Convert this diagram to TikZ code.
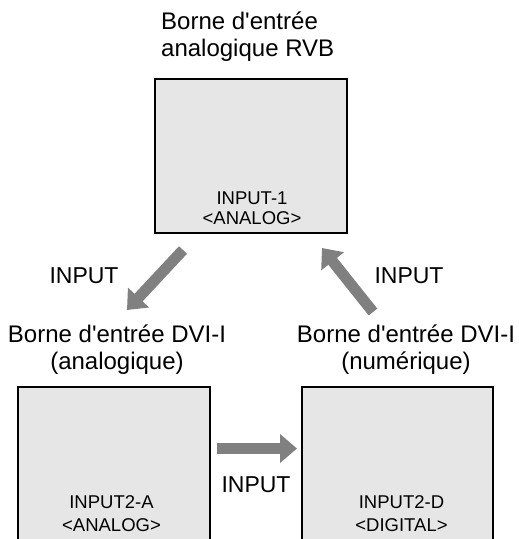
\documentclass[tikz,border=0pt]{standalone}
\usepackage{fontspec}
\setmainfont{Liberation Sans}[Ligatures=TeXOff]
\definecolor{mScreen}{HTML}{E6E6E6}
\definecolor{mArrow}{HTML}{808080}
\usetikzlibrary{arrows.meta}

\begin{document}
\begin{tikzpicture}[x=1pt, y=-1pt,
    screen/.style={draw=black, line width=1.4pt, fill=mScreen, inner sep=0pt},
    title/.style={font=\fontsize{24}{27}\selectfont, inner sep=0pt, anchor=north},
    tag/.style={font=\fontsize{23}{27}\selectfont, inner sep=0pt, anchor=base},
    portlbl/.style={font=\fontsize{18.5}{20}\selectfont, align=center, inner sep=0pt, anchor=north},
    flow/.style={mArrow, line width=11pt, -{Triangle[length=17pt, width=28pt]}}]
  \useasboundingbox (0,0) rectangle (519,539);
  \clip (0,0) rectangle (519,539);
  % screens
  \node[screen, minimum width=192pt, minimum height=154pt] (rgbscr) at (251,156) {};
  \node[screen, minimum width=192pt, minimum height=180pt] (dviascr) at (114,477) {};
  \node[screen, minimum width=191pt, minimum height=180pt] (dvidscr) at (397.5,477) {};
  % port names inside the screens
  \node[portlbl] (rgbport) at (252,192) {INPUT-1\\<ANALOG>};
  \node[portlbl, font=\fontsize{18.5}{23}\selectfont] (dviaport) at (111.5,495) {INPUT2-A\\<ANALOG>};
  \node[portlbl, font=\fontsize{18.5}{23}\selectfont] (dvidport) at (401.5,495) {INPUT2-D\\<DIGITAL>};
  % terminal names
  \node[title, anchor=north west, align=left] (rgbtitle) at (161,11.5)
       {Borne d'entrée\\analogique RVB};
  \node[title, align=center] (dviatitle) at (117,324.5)
       {Borne d'entrée DVI-I\\(analogique)};
  \node[title, align=center] (dvidtitle) at (406,324.5)
       {Borne d'entrée DVI-I\\(numérique)};
  % input switching
  \coordinate (fromrgb) at (183,250);
  \coordinate (todvia) at (127,310);
  \coordinate (fromdvia) at (217,448.5);
  \coordinate (todvid) at (297,448.5);
  \coordinate (fromdvid) at (373,312);
  \coordinate (torgb) at (322,248);
  \draw[flow] (fromrgb) -- (todvia);
  \draw[flow] (fromdvia) -- (todvid);
  \draw[flow] (fromdvid) -- (torgb);
  \node[tag] (tagleft) at (84,283) {INPUT};
  \node[tag] (tagright) at (409,283) {INPUT};
  \node[tag] (tagbottom) at (256,492) {INPUT};
\end{tikzpicture}
\end{document}
